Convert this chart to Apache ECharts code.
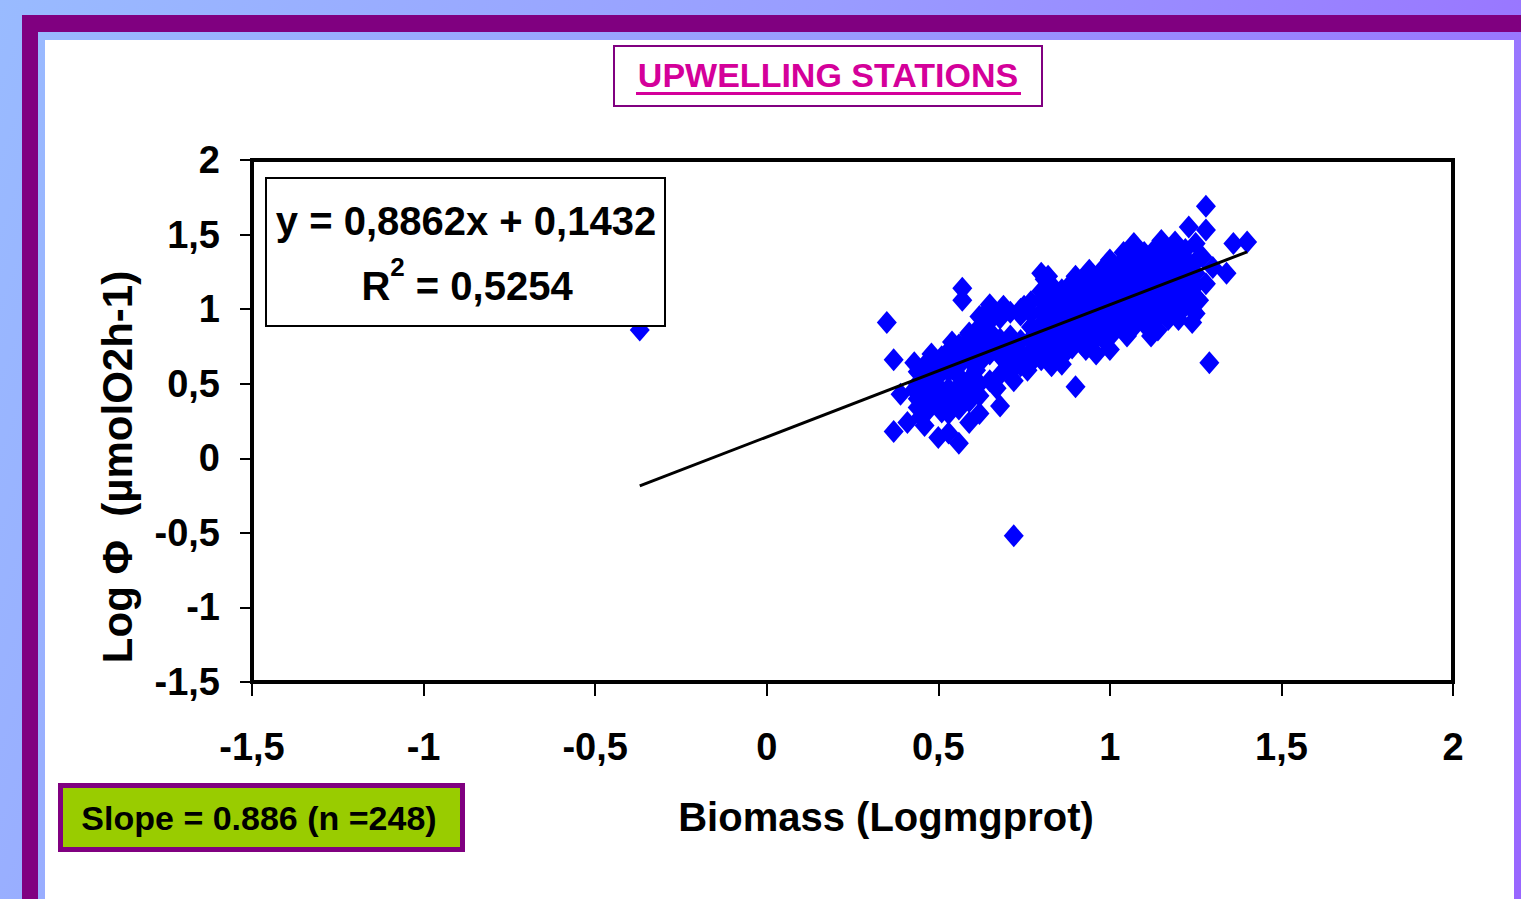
<!DOCTYPE html>
<html>
<head>
<meta charset="utf-8">
<script src="https://cdn.jsdelivr.net/npm/echarts@6/dist/echarts.min.js"></script>
<style>
html,body{margin:0;padding:0;width:1521px;height:899px;overflow:hidden;}
#bg{position:absolute;left:0;top:0;width:1521px;height:899px;background:linear-gradient(110deg,#99bbff 0%,#999cff 45%,#9966ff 100%);}
#bandTop{position:absolute;left:22px;top:15px;width:1499px;height:17px;background:#800080;}
#bandLeft{position:absolute;left:22px;top:15px;width:16px;height:884px;background:#800080;}
#panel{position:absolute;left:45px;top:40px;width:1469px;height:859px;background:#ffffff;}
#chart{position:absolute;left:0;top:0;width:1521px;height:899px;}
</style>
</head>
<body>
<div id="bg"></div>
<div id="bandTop"></div>
<div id="bandLeft"></div>
<div id="panel"></div>
<div id="chart"></div>
<script>
// ---- data ----
const chartTitle = 'UPWELLING STATIONS';
const xTitle = 'Biomass (Logmgprot)';
const yTitle = 'Log \u03A6  (\u00B5molO2h-1)';
const equationText = 'y = 0,8862x + 0,1432';
const r2Label = 'R';
const r2Sup = '2';
const r2Value = ' = 0,5254';
const slopeText = 'Slope = 0.886 (n =248)';

const axisMin = -1.5;
const axisMax = 2;
const axisStep = 0.5;

// trend line end points
const trendX = [-0.37, 1.40];
const trendY = [-0.185, 1.384];

// stations: [biomass (log mg prot), log phi]
const stations = [
[-0.37,0.86],[0.72,-0.52],[0.35,0.91],[0.57,1.14],[0.57,1.06],[0.37,0.66],[0.43,0.64],[0.48,0.70],
[0.39,0.43],[0.37,0.18],[0.41,0.24],[0.45,0.28],[0.51,0.31],[0.50,0.14],[0.53,0.17],[0.56,0.10],
[0.59,0.24],[0.68,0.35],[0.67,0.47],[0.90,0.48],[1.29,0.64],[1.28,1.69],[1.23,1.55],[1.28,1.53],
[1.36,1.44],[1.40,1.45],[1.34,1.24],[1.28,1.17],[1.24,0.91],[1.20,0.93],[1.25,0.97],[1.26,1.06],
[1.27,1.35],[1.25,1.44],[1.19,1.45],[1.15,1.46],[1.07,1.44],[1.04,1.38],[1.00,1.33],[0.94,1.26],
[0.90,1.22],[0.82,1.22],[0.80,1.24],[1.12,0.82],[1.05,0.82],[1.00,0.73],[0.83,0.62],[0.86,0.63],
[0.93,0.73],[1.17,0.93],[0.64,0.98],[0.69,1.02],[0.75,1.02],[0.81,1.20],[0.54,0.78],[0.59,0.83],
[0.51,0.66],[0.46,0.55],[0.43,0.46],[0.48,0.37],[0.54,0.41],[0.57,0.51],[0.61,0.59],[0.69,0.66],
[0.76,0.59],[0.72,0.52],[0.62,0.95],[0.65,1.03],[0.59,0.84],[0.51,0.68],
[0.44,0.34],[0.44,0.40],[0.44,0.50],[0.44,0.58],
[0.47,0.32],[0.47,0.44],[0.47,0.52],[0.47,0.60],[0.47,0.65],
[0.50,0.36],[0.50,0.42],[0.50,0.48],[0.50,0.55],[0.50,0.62],
[0.53,0.30],[0.53,0.38],[0.53,0.47],[0.53,0.58],[0.53,0.64],[0.53,0.72],
[0.56,0.33],[0.56,0.44],[0.56,0.55],[0.56,0.62],[0.56,0.70],[0.56,0.76],
[0.59,0.38],[0.59,0.46],[0.59,0.53],[0.59,0.66],[0.59,0.74],[0.59,0.79],
[0.62,0.42],[0.62,0.50],[0.62,0.64],[0.62,0.72],[0.62,0.80],[0.62,0.88],
[0.65,0.52],[0.65,0.70],[0.65,0.78],[0.65,0.85],[0.65,0.92],
[0.68,0.56],[0.68,0.74],[0.68,0.80],[0.68,0.94],[0.68,0.99],
[0.71,0.58],[0.71,0.68],[0.71,0.76],[0.71,0.82],[0.71,0.98],
[0.74,0.62],[0.74,0.70],[0.74,0.79],[0.74,0.96],[0.74,1.00],
[0.77,0.64],[0.77,0.72],[0.77,0.80],[0.77,0.88],[0.77,0.97],[0.77,1.05],
[0.80,0.66],[0.80,0.74],[0.80,0.83],[0.80,0.90],[0.80,0.98],[0.80,1.06],[0.80,1.12],
[0.83,0.70],[0.83,0.78],[0.83,0.86],[0.83,0.94],[0.83,1.02],[0.83,1.10],[0.83,1.16],
[0.86,0.68],[0.86,0.76],[0.86,0.84],[0.86,0.92],[0.86,0.99],[0.86,1.06],[0.86,1.13],
[0.89,0.74],[0.89,0.80],[0.89,0.88],[0.89,0.96],[0.89,1.04],[0.89,1.12],[0.89,1.18],
[0.92,0.76],[0.92,0.84],[0.92,0.90],[0.92,0.98],[0.92,1.06],[0.92,1.14],[0.92,1.20],
[0.95,0.78],[0.95,0.86],[0.95,0.94],[0.95,1.02],[0.95,1.10],[0.95,1.17],[0.95,1.23],
[0.98,0.80],[0.98,0.88],[0.98,0.96],[0.98,1.04],[0.98,1.12],[0.98,1.20],[0.98,1.27],
[1.01,0.84],[1.01,0.92],[1.01,1.00],[1.01,1.08],[1.01,1.16],[1.01,1.24],[1.01,1.30],
[1.04,0.86],[1.04,0.94],[1.04,1.02],[1.04,1.10],[1.04,1.18],[1.04,1.26],[1.04,1.33],
[1.07,0.88],[1.07,0.96],[1.07,1.04],[1.07,1.12],[1.07,1.20],[1.07,1.28],[1.07,1.36],
[1.10,0.90],[1.10,0.98],[1.10,1.06],[1.10,1.14],[1.10,1.22],[1.10,1.30],[1.10,1.38],
[1.13,0.92],[1.13,1.00],[1.13,1.08],[1.13,1.16],[1.13,1.24],[1.13,1.32],[1.13,1.40],
[1.16,0.96],[1.16,1.04],[1.16,1.12],[1.16,1.20],[1.16,1.28],[1.16,1.36],[1.16,1.41],
[1.19,0.98],[1.19,1.06],[1.19,1.14],[1.19,1.22],[1.19,1.30],[1.19,1.38],
[1.22,1.02],[1.22,1.10],[1.22,1.18],[1.22,1.26],[1.22,1.34],[1.22,1.40],
[1.25,1.08],[1.25,1.16],[1.25,1.24],[1.25,1.32],
[1.14,0.86],[0.96,0.70],[0.62,0.30],[0.46,0.22],[1.30,1.28],[0.88,1.08],[1.09,1.02]
];

// ---- chart ----
const FONT = '"Liberation Sans", Arial, sans-serif';
const commaFmt = v => String(v).replace('.', ',');
const centered = {align: 'center', verticalAlign: 'middle', textAlign: 'center', textVerticalAlign: 'middle'};

const chart = echarts.init(document.getElementById('chart'), null, {renderer: 'svg'});
chart.setOption({
  backgroundColor: 'transparent',
  animation: false,
  grid: {
    left: 252, top: 160, width: 1201, height: 522,
    show: true, borderColor: '#000', borderWidth: 4, backgroundColor: 'transparent',
    outerBoundsMode: 'none'
  },
  xAxis: {
    type: 'value', min: axisMin, max: axisMax, interval: axisStep,
    axisLine: {show: true, onZero: false, lineStyle: {color: '#000', width: 4}},
    axisTick: {show: true, inside: false, length: 14, lineStyle: {color: '#000', width: 2}},
    splitLine: {show: false},
    axisLabel: {show: true, margin: 46, color: '#000', fontSize: 38, fontWeight: 'bold', fontFamily: FONT, formatter: commaFmt}
  },
  yAxis: {
    type: 'value', min: axisMin, max: axisMax, interval: axisStep,
    axisLine: {show: true, onZero: false, lineStyle: {color: '#000', width: 4}},
    axisTick: {show: true, inside: false, length: 12, lineStyle: {color: '#000', width: 2}},
    splitLine: {show: false},
    axisLabel: {show: true, margin: 32, color: '#000', fontSize: 38, fontWeight: 'bold', fontFamily: FONT, formatter: commaFmt}
  },
  series: [
    {
      type: 'scatter',
      data: stations,
      symbol: 'diamond',
      symbolSize: [20, 23],
      itemStyle: {color: '#0000ff', opacity: 1},
      z: 3
    },
    {
      type: 'line',
      data: trendX.map((x, i) => [x, trendY[i]]),
      showSymbol: false,
      symbol: 'none',
      lineStyle: {color: '#000', width: 3},
      z: 5
    }
  ],
  graphic: [
    {type: 'rect', shape: {x: 614, y: 46, width: 428, height: 60}, style: {fill: '#fff', stroke: '#800080', lineWidth: 2}, z: 50},
    {type: 'text', x: 828, y: 75, z: 51, style: Object.assign({text: chartTitle, fill: '#d4009a', fontSize: 34, fontWeight: 'bold', fontFamily: FONT}, centered)},
    {type: 'line', shape: {x1: 636, y1: 93.5, x2: 1021, y2: 93.5}, style: {stroke: '#d4009a', lineWidth: 3}, z: 51},

    {type: 'rect', shape: {x: 266, y: 178, width: 399, height: 148}, style: {fill: '#fff', stroke: '#000', lineWidth: 2}, z: 50},
    {type: 'text', x: 466, y: 221, z: 51, style: Object.assign({text: equationText, fill: '#000', fontSize: 40, fontWeight: 'bold', fontFamily: FONT}, centered)},
    {type: 'text', x: 467, y: 280, z: 51, style: Object.assign({
      text: '{a|' + r2Label + '}{s|' + r2Sup + '}{a|' + r2Value + '}',
      fill: '#000', fontSize: 40, fontWeight: 'bold', fontFamily: FONT,
      rich: {
        a: {fontSize: 40, fontWeight: 'bold', fontFamily: FONT, lineHeight: 52, verticalAlign: 'bottom', fill: '#000'},
        s: {fontSize: 26, fontWeight: 'bold', fontFamily: FONT, lineHeight: 26, verticalAlign: 'top', fill: '#000'}
      }
    }, centered)},

    {type: 'rect', shape: {x: 60.5, y: 785.5, width: 402, height: 64}, style: {fill: '#99cc00', stroke: '#800080', lineWidth: 5}, z: 50},
    {type: 'text', x: 259, y: 818, z: 51, style: Object.assign({text: slopeText, fill: '#000', fontSize: 34, fontWeight: 'bold', fontFamily: FONT}, centered)},

    {type: 'text', x: 886, y: 817, z: 51, style: Object.assign({text: xTitle, fill: '#000', fontSize: 40, fontWeight: 'bold', fontFamily: FONT}, centered)},
    {type: 'text', x: 117, y: 467, rotation: Math.PI / 2, z: 51, style: Object.assign({text: yTitle, fill: '#000', fontSize: 42, fontWeight: 'bold', fontFamily: FONT}, centered)}
  ]
});
</script>
</body>
</html>
